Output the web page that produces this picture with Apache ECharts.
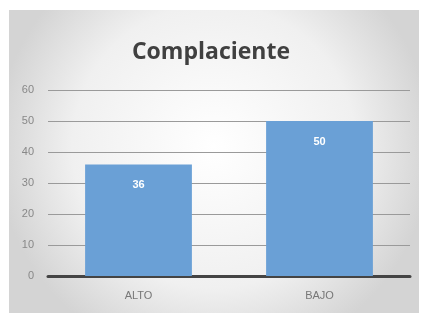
<!DOCTYPE html>
<html>
<head>
<meta charset="utf-8">
<script src="https://cdn.jsdelivr.net/npm/echarts@6/dist/echarts.min.js"></script>
<style>
  html, body { margin: 0; padding: 0; background: #fff; }
  #chart { width: 422px; height: 313px; }
</style>
</head>
<body>
<div id="chart"></div>
<script>
const categories = ['ALTO', 'BAJO'];
const values = [36, 50];
const yTicks = [0, 10, 20, 30, 40, 50, 60];

const chart = echarts.init(document.getElementById('chart'));

chart.setOption({
    backgroundColor: '#ffffff',
    animation: false,
    graphic: [{
        type: 'rect',
        z: -10,
        silent: true,
        shape: { x: 9, y: 10, width: 410, height: 303 },
        style: {
            fill: new echarts.graphic.RadialGradient(0.5, 0.45, 0.72, [
                { offset: 0, color: '#ffffff' },
                { offset: 0.65, color: '#f0f0f0' },
                { offset: 1, color: '#d4d4d4' }
            ])
        }
    }],
    title: {
        text: 'Complaciente',
        left: 'center',
        top: 36,
        textStyle: {
            color: '#404040',
            fontSize: 23,
            fontWeight: 'bold',
            fontFamily: 'Open Sans'
        }
    },
    grid: {
        left: 48,
        right: 12,
        top: 90,
        bottom: 37
    },
    xAxis: {
        type: 'category',
        data: categories,
        axisLine: { lineStyle: { color: '#444', width: 3 } },
        axisTick: { show: false },
        axisLabel: {
            color: '#777',
            fontSize: 11,
            fontFamily: 'Liberation Sans',
            margin: 14
        }
    },
    yAxis: {
        type: 'value',
        min: yTicks[0],
        max: yTicks[yTicks.length - 1],
        interval: 10,
        axisLine: { show: false },
        axisTick: { show: false },
        axisLabel: {
            color: '#888',
            fontSize: 11,
            fontFamily: 'Liberation Sans',
            margin: 14,
            align: 'right'
        },
        splitLine: { lineStyle: { color: '#9a9a9a', width: 1 } }
    },
    series: [{
        type: 'bar',
        data: values,
        barWidth: '59%',
        itemStyle: { color: '#6aa0d6' },
        label: {
            show: true,
            position: 'insideTop',
            distance: 15,
            color: '#ffffff',
            fontWeight: 'bold',
            fontSize: 11,
            fontFamily: 'Liberation Sans'
        }
    }]
});
</script>
</body>
</html>
